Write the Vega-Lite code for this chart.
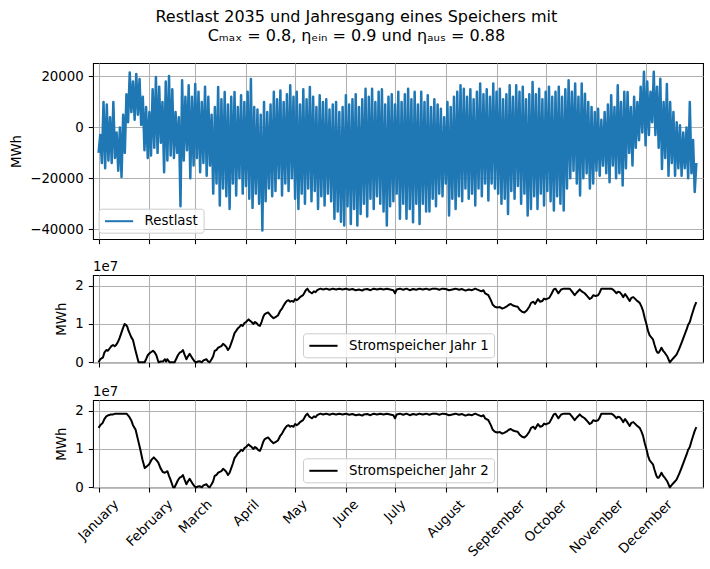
{
  "$schema": "https://vega.github.io/schema/vega-lite/v6.json",
  "background": "white",
  "padding": {"left": 9, "top": 8, "right": 8, "bottom": 5},
  "title": {
    "text": ["Restlast 2035 und Jahresgang eines Speichers mit", "Cₘₐₓ = 0.8, ηₑᵢₙ = 0.9 und ηₐᵤₛ = 0.88"],
    "font": "DejaVu Sans", "fontSize": 16, "fontWeight": "normal", "color": "black",
    "lineHeight": 19.5, "offset": 18, "anchor": "middle"
  },
  "spacing": 14,
  "config": {
    "font": "DejaVu Sans",
    "view": {"stroke": "black", "strokeWidth": 1.07},
    "axis": {
      "domain": false, "grid": true, "gridColor": "#b0b0b0", "gridWidth": 1.07,
      "tickColor": "black", "tickSize": 4.7, "tickWidth": 1.07, "labelOverlap": false,
      "labelFont": "DejaVu Sans", "labelFontSize": 13.33, "labelColor": "black", "labelPadding": 5,
      "titleFont": "DejaVu Sans", "titleFontSize": 13.33, "titleFontWeight": "normal", "titleColor": "black", "titlePadding": 6
    },
    "legend": {
      "title": null, "symbolType": "M-1,0H3.6", "symbolSize": 150, "symbolStrokeWidth": 2,
      "labelFont": "DejaVu Sans", "labelFontSize": 13.33, "labelColor": "black", "labelOffset": 26,
      "padding": 5, "strokeColor": "#cccccc", "fillColor": "rgba(255,255,255,0.8)", "cornerRadius": 3
    }
  },
  "datasets": {
    "restlast": [
      {"d":0,"v":-10000},{"d":1,"v":-3000},{"d":2,"v":-14000},{"d":3,"v":10000},{"d":4,"v":-16000},{"d":5,"v":9000},{"d":6,"v":-13000},{"d":7,"v":4000},{"d":8,"v":-14000},{"d":9,"v":10000},
      {"d":10,"v":-12000},{"d":11,"v":-2000},{"d":12,"v":-17000},{"d":13,"v":0},{"d":14,"v":-19500},{"d":15,"v":5000},{"d":16,"v":-10000},{"d":17,"v":13000},{"d":18,"v":2000},{"d":19,"v":21500},
      {"d":20,"v":6000},{"d":21,"v":18000},{"d":22,"v":3000},{"d":23,"v":21000},{"d":24,"v":5000},{"d":25,"v":19000},{"d":26,"v":1000},{"d":27,"v":12000},{"d":28,"v":-9000},{"d":29,"v":8000},
      {"d":30,"v":-12000},{"d":31,"v":6000},{"d":32,"v":-11000},{"d":33,"v":15000},{"d":34,"v":-8000},{"d":35,"v":19800},{"d":36,"v":-10000},{"d":37,"v":16000},{"d":38,"v":-6000},{"d":39,"v":10000},
      {"d":40,"v":-17600},{"d":41,"v":18000},{"d":42,"v":-13000},{"d":43,"v":20200},{"d":44,"v":-11000},{"d":45,"v":15000},{"d":46,"v":-12000},{"d":47,"v":6000},{"d":48,"v":-10000},{"d":49,"v":4000},
      {"d":50,"v":-31000},{"d":51,"v":18500},{"d":52,"v":-13000},{"d":53,"v":12000},{"d":54,"v":-9000},{"d":55,"v":16500},{"d":56,"v":-20000},{"d":57,"v":12000},{"d":58,"v":-15000},{"d":59,"v":17000},
      {"d":60,"v":-12000},{"d":61,"v":14000},{"d":62,"v":-17600},{"d":63,"v":10000},{"d":64,"v":-14000},{"d":65,"v":16000},{"d":66,"v":-19000},{"d":67,"v":12000},{"d":68,"v":-15000},{"d":69,"v":5000},
      {"d":70,"v":-26000},{"d":71,"v":8000},{"d":72,"v":-22000},{"d":73,"v":15900},{"d":74,"v":-30700},{"d":75,"v":11000},{"d":76,"v":-24000},{"d":77,"v":13900},{"d":78,"v":-27000},{"d":79,"v":9000},
      {"d":80,"v":-32000},{"d":81,"v":12000},{"d":82,"v":-22000},{"d":83,"v":13900},{"d":84,"v":-26700},{"d":85,"v":8000},{"d":86,"v":-20000},{"d":87,"v":12600},{"d":88,"v":-26000},{"d":89,"v":10000},
      {"d":90,"v":-23000},{"d":91,"v":14000},{"d":92,"v":-28000},{"d":93,"v":19000},{"d":94,"v":-31600},{"d":95,"v":8000},{"d":96,"v":-26000},{"d":97,"v":7000},{"d":98,"v":-30000},{"d":99,"v":5000},
      {"d":100,"v":-40500},{"d":101,"v":10000},{"d":102,"v":-29000},{"d":103,"v":6000},{"d":104,"v":-24000},{"d":105,"v":9000},{"d":106,"v":-27000},{"d":107,"v":14000},{"d":108,"v":-25000},{"d":109,"v":11000},
      {"d":110,"v":-20000},{"d":111,"v":14500},{"d":112,"v":-26700},{"d":113,"v":10000},{"d":114,"v":-22000},{"d":115,"v":13000},{"d":116,"v":-25000},{"d":117,"v":16500},{"d":118,"v":-20000},{"d":119,"v":12000},
      {"d":120,"v":-28000},{"d":121,"v":14000},{"d":122,"v":-32000},{"d":123,"v":9000},{"d":124,"v":-26000},{"d":125,"v":15000},{"d":126,"v":-30000},{"d":127,"v":11000},{"d":128,"v":-24000},{"d":129,"v":15900},
      {"d":130,"v":-29000},{"d":131,"v":12000},{"d":132,"v":-25000},{"d":133,"v":8000},{"d":134,"v":-32000},{"d":135,"v":12600},{"d":136,"v":-27000},{"d":137,"v":10000},{"d":138,"v":-30700},{"d":139,"v":11000},
      {"d":140,"v":-26000},{"d":141,"v":7000},{"d":142,"v":-29000},{"d":143,"v":9000},{"d":144,"v":-35900},{"d":145,"v":10000},{"d":146,"v":-33000},{"d":147,"v":6000},{"d":148,"v":-37000},{"d":149,"v":8000},
      {"d":150,"v":-38500},{"d":151,"v":12600},{"d":152,"v":-31000},{"d":153,"v":9000},{"d":154,"v":-37900},{"d":155,"v":11000},{"d":156,"v":-32000},{"d":157,"v":13000},{"d":158,"v":-38500},{"d":159,"v":8000},
      {"d":160,"v":-34000},{"d":161,"v":11000},{"d":162,"v":-30000},{"d":163,"v":15200},{"d":164,"v":-35000},{"d":165,"v":12000},{"d":166,"v":-28000},{"d":167,"v":15200},{"d":168,"v":-32000},{"d":169,"v":10000},
      {"d":170,"v":-27000},{"d":171,"v":14000},{"d":172,"v":-30000},{"d":173,"v":15000},{"d":174,"v":-33000},{"d":175,"v":9000},{"d":176,"v":-38500},{"d":177,"v":12000},{"d":178,"v":-31000},{"d":179,"v":13000},
      {"d":180,"v":-29000},{"d":181,"v":9000},{"d":182,"v":-26000},{"d":183,"v":14000},{"d":184,"v":-35900},{"d":185,"v":10000},{"d":186,"v":-30000},{"d":187,"v":13000},{"d":188,"v":-35900},{"d":189,"v":15200},
      {"d":190,"v":-32000},{"d":191,"v":11000},{"d":192,"v":-37200},{"d":193,"v":14000},{"d":194,"v":-30000},{"d":195,"v":9000},{"d":196,"v":-37900},{"d":197,"v":14000},{"d":198,"v":-30000},{"d":199,"v":10000},
      {"d":200,"v":-33000},{"d":201,"v":12600},{"d":202,"v":-33000},{"d":203,"v":8000},{"d":204,"v":-28000},{"d":205,"v":11000},{"d":206,"v":-31000},{"d":207,"v":9000},{"d":208,"v":-26000},{"d":209,"v":7300},
      {"d":210,"v":-27000},{"d":211,"v":4000},{"d":212,"v":-22000},{"d":213,"v":10000},{"d":214,"v":-34600},{"d":215,"v":8000},{"d":216,"v":-28000},{"d":217,"v":12000},{"d":218,"v":-32000},{"d":219,"v":14000},
      {"d":220,"v":-27000},{"d":221,"v":16500},{"d":222,"v":-29000},{"d":223,"v":15200},{"d":224,"v":-24000},{"d":225,"v":12000},{"d":226,"v":-28000},{"d":227,"v":15000},{"d":228,"v":-26000},{"d":229,"v":11000},
      {"d":230,"v":-30700},{"d":231,"v":14000},{"d":232,"v":-24000},{"d":233,"v":17200},{"d":234,"v":-27000},{"d":235,"v":13000},{"d":236,"v":-22000},{"d":237,"v":15000},{"d":238,"v":-28700},{"d":239,"v":12000},
      {"d":240,"v":-22000},{"d":241,"v":17200},{"d":242,"v":-24000},{"d":243,"v":14000},{"d":244,"v":-26000},{"d":245,"v":15200},{"d":246,"v":-30000},{"d":247,"v":11000},{"d":248,"v":-28000},{"d":249,"v":13000},
      {"d":250,"v":-34000},{"d":251,"v":16500},{"d":252,"v":-25000},{"d":253,"v":12000},{"d":254,"v":-28000},{"d":255,"v":16500},{"d":256,"v":-23000},{"d":257,"v":14000},{"d":258,"v":-30000},{"d":259,"v":16000},
      {"d":260,"v":-26000},{"d":261,"v":11000},{"d":262,"v":-34600},{"d":263,"v":13000},{"d":264,"v":-32000},{"d":265,"v":17800},{"d":266,"v":-27000},{"d":267,"v":13000},{"d":268,"v":-32000},{"d":269,"v":15200},
      {"d":270,"v":-26000},{"d":271,"v":11000},{"d":272,"v":-30700},{"d":273,"v":14000},{"d":274,"v":-25000},{"d":275,"v":16000},{"d":276,"v":-29000},{"d":277,"v":12000},{"d":278,"v":-32600},{"d":279,"v":14000},
      {"d":280,"v":-27000},{"d":281,"v":16000},{"d":282,"v":-30000},{"d":283,"v":12000},{"d":284,"v":-32600},{"d":285,"v":15000},{"d":286,"v":-24000},{"d":287,"v":18500},{"d":288,"v":-20000},{"d":289,"v":14000},
      {"d":290,"v":-17000},{"d":291,"v":17200},{"d":292,"v":-22000},{"d":293,"v":12000},{"d":294,"v":-26700},{"d":295,"v":17200},{"d":296,"v":-20000},{"d":297,"v":13200},{"d":298,"v":-18000},{"d":299,"v":10000},
      {"d":300,"v":-24000},{"d":301,"v":8000},{"d":302,"v":-22000},{"d":303,"v":6000},{"d":304,"v":-17000},{"d":305,"v":7300},{"d":306,"v":-19000},{"d":307,"v":3000},{"d":308,"v":-15000},{"d":309,"v":6000},
      {"d":310,"v":-18000},{"d":311,"v":9000},{"d":312,"v":-21500},{"d":313,"v":12600},{"d":314,"v":-15000},{"d":315,"v":8000},{"d":316,"v":-20000},{"d":317,"v":16500},{"d":318,"v":-18000},{"d":319,"v":10000},
      {"d":320,"v":-22800},{"d":321,"v":14000},{"d":322,"v":-16000},{"d":323,"v":13900},{"d":324,"v":-10000},{"d":325,"v":8000},{"d":326,"v":-15000},{"d":327,"v":12000},{"d":328,"v":-8000},{"d":329,"v":10000},
      {"d":330,"v":-5000},{"d":331,"v":16000},{"d":332,"v":-2000},{"d":333,"v":21800},{"d":334,"v":-7000},{"d":335,"v":18000},{"d":336,"v":-3000},{"d":337,"v":14000},{"d":338,"v":2000},{"d":339,"v":21800},
      {"d":340,"v":-3000},{"d":341,"v":16000},{"d":342,"v":-8000},{"d":343,"v":19100},{"d":344,"v":-16300},{"d":345,"v":10000},{"d":346,"v":-12000},{"d":347,"v":17000},{"d":348,"v":-19000},{"d":349,"v":10000},
      {"d":350,"v":-14000},{"d":351,"v":6000},{"d":352,"v":-19000},{"d":353,"v":2000},{"d":354,"v":-16000},{"d":355,"v":800},{"d":356,"v":-19000},{"d":357,"v":-2000},{"d":358,"v":-16000},{"d":359,"v":0},
      {"d":360,"v":-20000},{"d":361,"v":10000},{"d":362,"v":-18000},{"d":363,"v":-5000},{"d":364,"v":-25400},{"d":365,"v":-14000}
    ],
    "jahr1": [
      {"d":0,"v":0},{"d":1,"v":0.08e7},{"d":2.7,"v":0.13e7},{"d":3.5,"v":0.25e7},{"d":4.7,"v":0.32e7},{"d":5.7,"v":0.3e7},{"d":6.7,"v":0.36e7},{"d":7.8,"v":0.42e7},{"d":8.8,"v":0.45e7},{"d":9.8,"v":0.42e7},
      {"d":10.8,"v":0.46e7},{"d":12,"v":0.55e7},{"d":12.8,"v":0.63e7},{"d":14,"v":0.78e7},{"d":14.9,"v":0.89e7},{"d":15.9,"v":1.0e7},{"d":16.8,"v":0.97e7},{"d":17.5,"v":0.93e7},{"d":18.2,"v":0.83e7},{"d":18.9,"v":0.76e7},
      {"d":20,"v":0.65e7},{"d":21,"v":0.58e7},{"d":22,"v":0.4e7},{"d":23,"v":0.23e7},{"d":24.4,"v":0},{"d":26,"v":0},{"d":28.1,"v":0},{"d":29,"v":0.08e7},{"d":30.1,"v":0.19e7},{"d":31.5,"v":0.25e7},
      {"d":33.2,"v":0.3e7},{"d":34.2,"v":0.26e7},{"d":35.2,"v":0.19e7},{"d":36.6,"v":0},{"d":38,"v":0.02e7},{"d":39.3,"v":0.02e7},{"d":40.5,"v":0.08e7},{"d":41.2,"v":0.02e7},{"d":41.9,"v":0.08e7},{"d":43.4,"v":0},
      {"d":46.4,"v":0},{"d":47.5,"v":0.1e7},{"d":48.5,"v":0.19e7},{"d":49.5,"v":0.25e7},{"d":50.5,"v":0.27e7},{"d":51.5,"v":0.32e7},{"d":52.5,"v":0.2e7},{"d":53.6,"v":0.08e7},{"d":54.5,"v":0.15e7},{"d":55.6,"v":0.22e7},
      {"d":56.6,"v":0.15e7},{"d":57.6,"v":0.08e7},{"d":58.7,"v":0.02e7},{"d":59.7,"v":0},{"d":60.5,"v":0.02e7},{"d":61.7,"v":0.03e7},{"d":63,"v":0},{"d":64,"v":0.05e7},{"d":65.8,"v":0.08e7},{"d":67,"v":0.02e7},
      {"d":67.8,"v":0},{"d":69,"v":0.08e7},{"d":69.9,"v":0.15e7},{"d":70.9,"v":0.3e7},{"d":71.9,"v":0.32e7},{"d":73,"v":0.38e7},{"d":74,"v":0.4e7},{"d":75,"v":0.42e7},{"d":76,"v":0.48e7},{"d":77,"v":0.45e7},
      {"d":78,"v":0.4e7},{"d":79,"v":0.32e7},{"d":80,"v":0.38e7},{"d":81,"v":0.5e7},{"d":82,"v":0.62e7},{"d":83,"v":0.76e7},{"d":84,"v":0.82e7},{"d":85.1,"v":0.89e7},{"d":86,"v":0.92e7},{"d":87,"v":0.98e7},
      {"d":88,"v":0.95e7},{"d":89,"v":1.02e7},{"d":90,"v":1.05e7},{"d":91.6,"v":1.12e7},{"d":92.5,"v":1.08e7},{"d":93.5,"v":1.05e7},{"d":94.4,"v":1.0e7},{"d":95.5,"v":1.05e7},{"d":96.5,"v":1.02e7},{"d":97.5,"v":0.97e7},
      {"d":98.5,"v":0.95e7},{"d":99.5,"v":1.05e7},{"d":100.5,"v":1.18e7},{"d":101.3,"v":1.25e7},{"d":102.5,"v":1.28e7},{"d":103.5,"v":1.3e7},{"d":104.5,"v":1.25e7},{"d":105.5,"v":1.2e7},{"d":106.8,"v":1.15e7},{"d":108,"v":1.18e7},
      {"d":109.5,"v":1.22e7},{"d":111,"v":1.35e7},{"d":112,"v":1.4e7},{"d":113,"v":1.48e7},{"d":114,"v":1.55e7},{"d":115,"v":1.6e7},{"d":116,"v":1.62e7},{"d":117,"v":1.58e7},{"d":117.9,"v":1.6e7},{"d":119,"v":1.58e7},
      {"d":120,"v":1.65e7},{"d":121,"v":1.62e7},{"d":122,"v":1.65e7},{"d":123,"v":1.7e7},{"d":124.8,"v":1.75e7},{"d":125.5,"v":1.8e7},{"d":126.5,"v":1.88e7},{"d":127.5,"v":1.92e7},{"d":128.5,"v":1.85e7},{"d":129.5,"v":1.82e7},
      {"d":130.3,"v":1.8e7},{"d":131.5,"v":1.85e7},{"d":132.5,"v":1.83e7},{"d":133.5,"v":1.88e7},{"d":134.4,"v":1.9e7},{"d":135.5,"v":1.92e7},{"d":137,"v":1.9e7},{"d":139,"v":1.92e7},{"d":141,"v":1.89e7},{"d":143,"v":1.92e7},
      {"d":145,"v":1.9e7},{"d":147,"v":1.92e7},{"d":149,"v":1.9e7},{"d":151,"v":1.92e7},{"d":153,"v":1.89e7},{"d":155,"v":1.91e7},{"d":157,"v":1.88e7},{"d":159,"v":1.9e7},{"d":161,"v":1.87e7},{"d":162,"v":1.9e7},
      {"d":164,"v":1.91e7},{"d":166,"v":1.88e7},{"d":168,"v":1.92e7},{"d":170,"v":1.9e7},{"d":172,"v":1.92e7},{"d":174,"v":1.9e7},{"d":176,"v":1.92e7},{"d":178,"v":1.9e7},{"d":180,"v":1.88e7},{"d":181,"v":1.8e7},
      {"d":182,"v":1.9e7},{"d":184,"v":1.92e7},{"d":186,"v":1.89e7},{"d":188,"v":1.92e7},{"d":190,"v":1.88e7},{"d":192,"v":1.91e7},{"d":194,"v":1.89e7},{"d":196,"v":1.92e7},{"d":198,"v":1.9e7},{"d":200,"v":1.92e7},
      {"d":202,"v":1.89e7},{"d":204,"v":1.92e7},{"d":206,"v":1.92e7},{"d":208,"v":1.89e7},{"d":210,"v":1.92e7},{"d":212,"v":1.91e7},{"d":214,"v":1.88e7},{"d":216,"v":1.9e7},{"d":218,"v":1.92e7},{"d":220,"v":1.89e7},
      {"d":222,"v":1.91e7},{"d":224,"v":1.87e7},{"d":226,"v":1.9e7},{"d":228,"v":1.88e7},{"d":230,"v":1.92e7},{"d":231,"v":1.9e7},{"d":233.8,"v":1.85e7},{"d":235,"v":1.88e7},{"d":236,"v":1.8e7},{"d":238,"v":1.75e7},
      {"d":239.5,"v":1.62e7},{"d":240.7,"v":1.5e7},{"d":242,"v":1.45e7},{"d":243.4,"v":1.43e7},{"d":245,"v":1.44e7},{"d":246.5,"v":1.4e7},{"d":247.6,"v":1.42e7},{"d":249,"v":1.45e7},{"d":250.5,"v":1.5e7},{"d":251.7,"v":1.52e7},
      {"d":253,"v":1.48e7},{"d":254.5,"v":1.46e7},{"d":255.9,"v":1.45e7},{"d":257,"v":1.38e7},{"d":258.6,"v":1.32e7},{"d":260,"v":1.3e7},{"d":261.4,"v":1.35e7},{"d":263,"v":1.45e7},{"d":264.1,"v":1.55e7},{"d":265.5,"v":1.58e7},
      {"d":266.5,"v":1.52e7},{"d":268.3,"v":1.65e7},{"d":269.5,"v":1.58e7},{"d":271,"v":1.6e7},{"d":272,"v":1.66e7},{"d":273,"v":1.64e7},{"d":275.2,"v":1.68e7},{"d":276.5,"v":1.78e7},{"d":277.9,"v":1.9e7},{"d":279,"v":1.92e7},
      {"d":280.7,"v":1.8e7},{"d":282.5,"v":1.9e7},{"d":284,"v":1.92e7},{"d":287.6,"v":1.92e7},{"d":289,"v":1.85e7},{"d":290.7,"v":1.75e7},{"d":292,"v":1.82e7},{"d":293.8,"v":1.9e7},{"d":295,"v":1.85e7},{"d":296.8,"v":1.8e7},
      {"d":298.5,"v":1.72e7},{"d":299.9,"v":1.65e7},{"d":301,"v":1.68e7},{"d":302,"v":1.75e7},{"d":303.5,"v":1.73e7},{"d":305,"v":1.75e7},{"d":306,"v":1.82e7},{"d":307,"v":1.92e7},{"d":313.1,"v":1.92e7},{"d":314.5,"v":1.88e7},
      {"d":316.2,"v":1.8e7},{"d":317.2,"v":1.84e7},{"d":318.2,"v":1.83e7},{"d":319.2,"v":1.78e7},{"d":320.3,"v":1.7e7},{"d":321.5,"v":1.78e7},{"d":322.5,"v":1.72e7},{"d":324.3,"v":1.6e7},{"d":325.3,"v":1.68e7},{"d":326.5,"v":1.7e7},
      {"d":327.5,"v":1.66e7},{"d":328.4,"v":1.62e7},{"d":330.4,"v":1.55e7},{"d":331.5,"v":1.45e7},{"d":332.4,"v":1.35e7},{"d":333.5,"v":1.15e7},{"d":334.5,"v":1.0e7},{"d":335.5,"v":0.82e7},{"d":336.5,"v":0.7e7},{"d":337.5,"v":0.65e7},
      {"d":338.5,"v":0.6e7},{"d":339.5,"v":0.45e7},{"d":340.6,"v":0.3e7},{"d":341.3,"v":0.25e7},{"d":342,"v":0.25e7},{"d":343,"v":0.32e7},{"d":343.7,"v":0.38e7},{"d":344.7,"v":0.3e7},{"d":345.7,"v":0.25e7},{"d":347.3,"v":0.15e7},
      {"d":348.8,"v":0},{"d":350.8,"v":0.1e7},{"d":352.9,"v":0.2e7},{"d":354.5,"v":0.35e7},{"d":355.9,"v":0.5e7},{"d":357.5,"v":0.68e7},{"d":359,"v":0.85e7},{"d":360,"v":0.98e7},{"d":361,"v":1.05e7},{"d":362,"v":1.2e7},
      {"d":363.1,"v":1.35e7},{"d":364,"v":1.47e7},{"d":365,"v":1.57e7}
    ],
    "jahr2": [
      {"d":0,"v":1.55e7},{"d":1,"v":1.62e7},{"d":2.5,"v":1.68e7},{"d":3.5,"v":1.78e7},{"d":4.7,"v":1.85e7},{"d":6,"v":1.88e7},{"d":7.5,"v":1.9e7},{"d":9,"v":1.9e7},{"d":10.2,"v":1.92e7},{"d":13,"v":1.92e7},
      {"d":17.1,"v":1.92e7},{"d":18.5,"v":1.85e7},{"d":19.9,"v":1.75e7},{"d":21,"v":1.62e7},{"d":22.6,"v":1.5e7},{"d":24,"v":1.25e7},{"d":25.4,"v":1.0e7},{"d":26.8,"v":0.72e7},{"d":28.2,"v":0.5e7},{"d":29.5,"v":0.55e7},
      {"d":30.9,"v":0.6e7},{"d":32.3,"v":0.72e7},{"d":33.7,"v":0.78e7},{"d":35,"v":0.72e7},{"d":36.4,"v":0.65e7},{"d":37.8,"v":0.5e7},{"d":39.2,"v":0.4e7},{"d":40.5,"v":0.38e7},{"d":42,"v":0.42e7},{"d":43,"v":0.3e7},
      {"d":43.9,"v":0.2e7},{"d":45.5,"v":0},
      {"d":46.4,"v":0},{"d":47.5,"v":0.1e7},{"d":48.5,"v":0.19e7},{"d":49.5,"v":0.25e7},{"d":50.5,"v":0.27e7},{"d":51.5,"v":0.32e7},{"d":52.5,"v":0.2e7},{"d":53.6,"v":0.08e7},{"d":54.5,"v":0.15e7},{"d":55.6,"v":0.22e7},
      {"d":56.6,"v":0.15e7},{"d":57.6,"v":0.08e7},{"d":58.7,"v":0.02e7},{"d":59.7,"v":0},{"d":60.5,"v":0.02e7},{"d":61.7,"v":0.03e7},{"d":63,"v":0},{"d":64,"v":0.05e7},{"d":65.8,"v":0.08e7},{"d":67,"v":0.02e7},
      {"d":67.8,"v":0},{"d":69,"v":0.08e7},{"d":69.9,"v":0.15e7},{"d":70.9,"v":0.3e7},{"d":71.9,"v":0.32e7},{"d":73,"v":0.38e7},{"d":74,"v":0.4e7},{"d":75,"v":0.42e7},{"d":76,"v":0.48e7},{"d":77,"v":0.45e7},
      {"d":78,"v":0.4e7},{"d":79,"v":0.32e7},{"d":80,"v":0.38e7},{"d":81,"v":0.5e7},{"d":82,"v":0.62e7},{"d":83,"v":0.76e7},{"d":84,"v":0.82e7},{"d":85.1,"v":0.89e7},{"d":86,"v":0.92e7},{"d":87,"v":0.98e7},
      {"d":88,"v":0.95e7},{"d":89,"v":1.02e7},{"d":90,"v":1.05e7},{"d":91.6,"v":1.12e7},{"d":92.5,"v":1.08e7},{"d":93.5,"v":1.05e7},{"d":94.4,"v":1.0e7},{"d":95.5,"v":1.05e7},{"d":96.5,"v":1.02e7},{"d":97.5,"v":0.97e7},
      {"d":98.5,"v":0.95e7},{"d":99.5,"v":1.05e7},{"d":100.5,"v":1.18e7},{"d":101.3,"v":1.25e7},{"d":102.5,"v":1.28e7},{"d":103.5,"v":1.3e7},{"d":104.5,"v":1.25e7},{"d":105.5,"v":1.2e7},{"d":106.8,"v":1.15e7},{"d":108,"v":1.18e7},
      {"d":109.5,"v":1.22e7},{"d":111,"v":1.35e7},{"d":112,"v":1.4e7},{"d":113,"v":1.48e7},{"d":114,"v":1.55e7},{"d":115,"v":1.6e7},{"d":116,"v":1.62e7},{"d":117,"v":1.58e7},{"d":117.9,"v":1.6e7},{"d":119,"v":1.58e7},
      {"d":120,"v":1.65e7},{"d":121,"v":1.62e7},{"d":122,"v":1.65e7},{"d":123,"v":1.7e7},{"d":124.8,"v":1.75e7},{"d":125.5,"v":1.8e7},{"d":126.5,"v":1.88e7},{"d":127.5,"v":1.92e7},{"d":128.5,"v":1.85e7},{"d":129.5,"v":1.82e7},
      {"d":130.3,"v":1.8e7},{"d":131.5,"v":1.85e7},{"d":132.5,"v":1.83e7},{"d":133.5,"v":1.88e7},{"d":134.4,"v":1.9e7},{"d":135.5,"v":1.92e7},{"d":137,"v":1.9e7},{"d":139,"v":1.92e7},{"d":141,"v":1.89e7},{"d":143,"v":1.92e7},
      {"d":145,"v":1.9e7},{"d":147,"v":1.92e7},{"d":149,"v":1.9e7},{"d":151,"v":1.92e7},{"d":153,"v":1.89e7},{"d":155,"v":1.91e7},{"d":157,"v":1.88e7},{"d":159,"v":1.9e7},{"d":161,"v":1.87e7},{"d":162,"v":1.9e7},
      {"d":164,"v":1.91e7},{"d":166,"v":1.88e7},{"d":168,"v":1.92e7},{"d":170,"v":1.9e7},{"d":172,"v":1.92e7},{"d":174,"v":1.9e7},{"d":176,"v":1.92e7},{"d":178,"v":1.9e7},{"d":180,"v":1.88e7},{"d":181,"v":1.8e7},
      {"d":182,"v":1.9e7},{"d":184,"v":1.92e7},{"d":186,"v":1.89e7},{"d":188,"v":1.92e7},{"d":190,"v":1.88e7},{"d":192,"v":1.91e7},{"d":194,"v":1.89e7},{"d":196,"v":1.92e7},{"d":198,"v":1.9e7},{"d":200,"v":1.92e7},
      {"d":202,"v":1.89e7},{"d":204,"v":1.92e7},{"d":206,"v":1.92e7},{"d":208,"v":1.89e7},{"d":210,"v":1.92e7},{"d":212,"v":1.91e7},{"d":214,"v":1.88e7},{"d":216,"v":1.9e7},{"d":218,"v":1.92e7},{"d":220,"v":1.89e7},
      {"d":222,"v":1.91e7},{"d":224,"v":1.87e7},{"d":226,"v":1.9e7},{"d":228,"v":1.88e7},{"d":230,"v":1.92e7},{"d":231,"v":1.9e7},{"d":233.8,"v":1.85e7},{"d":235,"v":1.88e7},{"d":236,"v":1.8e7},{"d":238,"v":1.75e7},
      {"d":239.5,"v":1.62e7},{"d":240.7,"v":1.5e7},{"d":242,"v":1.45e7},{"d":243.4,"v":1.43e7},{"d":245,"v":1.44e7},{"d":246.5,"v":1.4e7},{"d":247.6,"v":1.42e7},{"d":249,"v":1.45e7},{"d":250.5,"v":1.5e7},{"d":251.7,"v":1.52e7},
      {"d":253,"v":1.48e7},{"d":254.5,"v":1.46e7},{"d":255.9,"v":1.45e7},{"d":257,"v":1.38e7},{"d":258.6,"v":1.32e7},{"d":260,"v":1.3e7},{"d":261.4,"v":1.35e7},{"d":263,"v":1.45e7},{"d":264.1,"v":1.55e7},{"d":265.5,"v":1.58e7},
      {"d":266.5,"v":1.52e7},{"d":268.3,"v":1.65e7},{"d":269.5,"v":1.58e7},{"d":271,"v":1.6e7},{"d":272,"v":1.66e7},{"d":273,"v":1.64e7},{"d":275.2,"v":1.68e7},{"d":276.5,"v":1.78e7},{"d":277.9,"v":1.9e7},{"d":279,"v":1.92e7},
      {"d":280.7,"v":1.8e7},{"d":282.5,"v":1.9e7},{"d":284,"v":1.92e7},{"d":287.6,"v":1.92e7},{"d":289,"v":1.85e7},{"d":290.7,"v":1.75e7},{"d":292,"v":1.82e7},{"d":293.8,"v":1.9e7},{"d":295,"v":1.85e7},{"d":296.8,"v":1.8e7},
      {"d":298.5,"v":1.72e7},{"d":299.9,"v":1.65e7},{"d":301,"v":1.68e7},{"d":302,"v":1.75e7},{"d":303.5,"v":1.73e7},{"d":305,"v":1.75e7},{"d":306,"v":1.82e7},{"d":307,"v":1.92e7},{"d":313.1,"v":1.92e7},{"d":314.5,"v":1.88e7},
      {"d":316.2,"v":1.8e7},{"d":317.2,"v":1.84e7},{"d":318.2,"v":1.83e7},{"d":319.2,"v":1.78e7},{"d":320.3,"v":1.7e7},{"d":321.5,"v":1.78e7},{"d":322.5,"v":1.72e7},{"d":324.3,"v":1.6e7},{"d":325.3,"v":1.68e7},{"d":326.5,"v":1.7e7},
      {"d":327.5,"v":1.66e7},{"d":328.4,"v":1.62e7},{"d":330.4,"v":1.55e7},{"d":331.5,"v":1.45e7},{"d":332.4,"v":1.35e7},{"d":333.5,"v":1.15e7},{"d":334.5,"v":1.0e7},{"d":335.5,"v":0.82e7},{"d":336.5,"v":0.7e7},{"d":337.5,"v":0.65e7},
      {"d":338.5,"v":0.6e7},{"d":339.5,"v":0.45e7},{"d":340.6,"v":0.3e7},{"d":341.3,"v":0.25e7},{"d":342,"v":0.25e7},{"d":343,"v":0.32e7},{"d":343.7,"v":0.38e7},{"d":344.7,"v":0.3e7},{"d":345.7,"v":0.25e7},{"d":347.3,"v":0.15e7},
      {"d":348.8,"v":0},{"d":350.8,"v":0.1e7},{"d":352.9,"v":0.2e7},{"d":354.5,"v":0.35e7},{"d":355.9,"v":0.5e7},{"d":357.5,"v":0.68e7},{"d":359,"v":0.85e7},{"d":360,"v":0.98e7},{"d":361,"v":1.05e7},{"d":362,"v":1.2e7},
      {"d":363.1,"v":1.35e7},{"d":364,"v":1.47e7},{"d":365,"v":1.57e7}
    ]
  },
  "vconcat": [
    {
      "width": 610, "height": 176,
      "data": {"name": "restlast"},
      "mark": {"type": "line", "strokeWidth": 2.5, "strokeJoin": "round"},
      "encoding": {
        "x": {"field": "d", "type": "quantitative",
              "scale": {"domain": [-3.42, 369.06], "nice": false, "zero": false},
              "axis": {"values": [0,31,59,90,120,151,181,212,243,273,304,334], "labels": false, "title": null}},
        "y": {"field": "v", "type": "quantitative",
              "scale": {"domain": [-43820, 25276], "nice": false, "zero": false},
              "axis": {"values": [-40000,-20000,0,20000], "format": "d", "title": "MWh"}},
        "color": {"datum": "Restlast", "type": "nominal",
                  "scale": {"domain": ["Restlast"], "range": ["#1f77b4"]},
                  "legend": {"orient": "none", "legendX": 5.6, "legendY": 145.7, "symbolStrokeWidth": 2}}
      }
    },
    {
      "width": 610, "height": 87.3,
      "title": {"text": "1e7", "anchor": "start", "frame": "group", "fontSize": 13.33, "fontWeight": "normal", "font": "DejaVu Sans", "color": "black", "offset": 2},
      "data": {"name": "jahr1"},
      "mark": {"type": "line", "strokeWidth": 2, "strokeJoin": "round"},
      "encoding": {
        "x": {"field": "d", "type": "quantitative",
              "scale": {"domain": [-3.42, 369.06], "nice": false, "zero": false},
              "axis": {"values": [0,31,59,90,120,151,181,212,243,273,304,334], "labels": false, "title": null}},
        "y": {"field": "v", "type": "quantitative",
              "scale": {"domain": [0, 22764000], "nice": false, "zero": false},
              "axis": {"values": [0, 10000000, 20000000], "labelExpr": "format(datum.value / 10000000, 'd')", "title": "MWh"}},
        "color": {"datum": "Stromspeicher Jahr 1", "type": "nominal",
                  "scale": {"domain": ["Stromspeicher Jahr 1"], "range": ["black"]},
                  "legend": {"orient": "none", "legendX": 210, "legendY": 58.3}}
      }
    },
    {
      "width": 610, "height": 87.3,
      "title": {"text": "1e7", "anchor": "start", "frame": "group", "fontSize": 13.33, "fontWeight": "normal", "font": "DejaVu Sans", "color": "black", "offset": 2},
      "data": {"name": "jahr2"},
      "mark": {"type": "line", "strokeWidth": 2, "strokeJoin": "round"},
      "encoding": {
        "x": {"field": "d", "type": "quantitative",
              "scale": {"domain": [-3.42, 369.06], "nice": false, "zero": false},
              "axis": {"values": [0,31,59,90,120,151,181,212,243,273,304,334], "title": null,
                       "labelAngle": -45, "labelAlign": "right", "labelBaseline": "top",
                       "labelExpr": "['January','February','March','April','May','June','July','August','September','October','November','December'][indexof([0,31,59,90,120,151,181,212,243,273,304,334], datum.value)]",
                       "labelOffset": {"condition": [
                         {"test": "datum.value == 0", "value": 12.5},
                         {"test": "datum.value == 31", "value": 15.8},
                         {"test": "datum.value == 59", "value": 9.2},
                         {"test": "datum.value == 90", "value": 5.5},
                         {"test": "datum.value == 120", "value": 4.5},
                         {"test": "datum.value == 151", "value": 4.9},
                         {"test": "datum.value == 181", "value": 3.2},
                         {"test": "datum.value == 212", "value": 11.2},
                         {"test": "datum.value == 243", "value": 20.8},
                         {"test": "datum.value == 273", "value": 13.5},
                         {"test": "datum.value == 304", "value": 19.2}
                       ], "value": 19.1}}},
        "y": {"field": "v", "type": "quantitative",
              "scale": {"domain": [0, 22764000], "nice": false, "zero": false},
              "axis": {"values": [0, 10000000, 20000000], "labelExpr": "format(datum.value / 10000000, 'd')", "title": "MWh"}},
        "color": {"datum": "Stromspeicher Jahr 2", "type": "nominal",
                  "scale": {"domain": ["Stromspeicher Jahr 2"], "range": ["black"]},
                  "legend": {"orient": "none", "legendX": 210, "legendY": 58.3}}
      }
    }
  ],
  "resolve": {"scale": {"color": "independent"}, "legend": {"color": "independent"}}
}
